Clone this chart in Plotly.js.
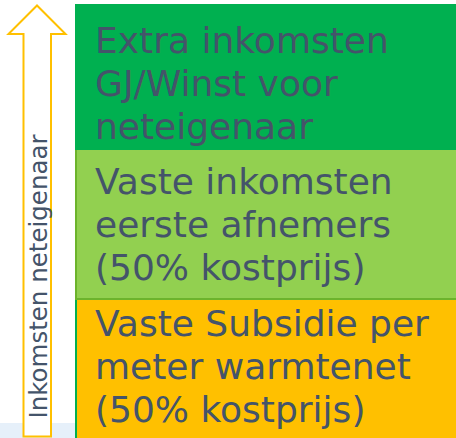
<!DOCTYPE html>
<html>
<head>
<meta charset="utf-8">
<script src="https://cdn.plot.ly/plotly-3.0.1.min.js"></script>
<style>html,body{margin:0;padding:0;background:#fff;}#chart{width:456px;height:438px;}</style>
</head>
<body>
<div id="chart"></div>
<script>
// ---- data ----
const categories = [0];
const axisLabel = 'Inkomsten neteigenaar';
const seriesNames = [
  'Vaste Subsidie per meter warmtenet (50% kostprijs)',
  'Vaste inkomsten eerste afnemers (50% kostprijs)',
  'Extra inkomsten GJ/Winst voor neteigenaar'
];
const seriesValues = [142.5, 150, 143.5];
const seriesLines = [
  ['Vaste Subsidie per', 'meter warmtenet', '(50% kostprijs)'],
  ['Vaste inkomsten', 'eerste afnemers', '(50% kostprijs)'],
  ['Extra inkomsten', 'GJ/Winst voor', 'neteigenaar']
];
const seriesColors = ['#FFC000', '#92D050', '#00B050'];
const seriesLineColors = ['#00B050', '#6CB32C', '#00B050'];

// ---- layout helpers ----
const W = 456, H = 438;
const px = x => x / W;
const py = y => 1 - y / H;
const textColor = '#44546A';
const barWidth = 1;
const firstBaseline = [36.5, 44.5, 47];
const lineGap = 43;
const ascent = 34.4;

const traces = seriesNames.map((name, i) => ({
  type: 'bar',
  name: name,
  x: categories,
  y: [seriesValues[i]],
  width: barWidth,
  marker: {color: seriesColors[i], line: {color: seriesLineColors[i], width: 2}},
  hoverinfo: 'skip'
}));

const annotations = [];
let cum = 0;
seriesValues.forEach((v, i) => {
  cum += v;
  seriesLines[i].forEach((line, k) => {
    annotations.push({
      xref: 'x', yref: 'y',
      x: categories[0] - barWidth / 2, y: cum,
      xanchor: 'left', yanchor: 'top',
      xshift: 17,
      yshift: -(firstBaseline[i] + k * lineGap - ascent),
      text: line, showarrow: false,
      font: {family: 'DejaVu Sans', size: 36, color: textColor}
    });
  });
});
annotations.push({
  xref: 'paper', yref: 'paper',
  x: px(37.5), y: py(276),
  xanchor: 'center', yanchor: 'middle',
  text: axisLabel, textangle: -90, showarrow: false,
  font: {family: 'DejaVu Sans', size: 24.5, color: textColor}
});

const arrowPath = 'M ' + px(23.5) + ' ' + py(436.5) +
  ' L ' + px(23.5) + ' ' + py(34) +
  ' L ' + px(8.5) + ' ' + py(34) +
  ' L ' + px(37) + ' ' + py(5.5) +
  ' L ' + px(65.5) + ' ' + py(34) +
  ' L ' + px(51) + ' ' + py(34) +
  ' L ' + px(51) + ' ' + py(436.5) + ' Z';

// bar left edge at pixel 76, right edge at pixel ~464 (off-canvas)
const leftPx = 76, rightPx = 464;
const unitPx = (rightPx - leftPx) / barWidth;
const xr0 = categories[0] - barWidth / 2 - leftPx / unitPx;
const xr1 = xr0 + W / unitPx;
const layout = {
  width: W, height: H,
  margin: {l: 0, r: 0, t: 0, b: 0, pad: 0},
  paper_bgcolor: '#ffffff', plot_bgcolor: 'rgba(0,0,0,0)',
  barmode: 'stack',
  showlegend: false,
  xaxis: {range: [xr0, xr1], visible: false, fixedrange: true},
  yaxis: {range: [3, 441], visible: false, fixedrange: true},
  shapes: [
    {type: 'rect', xref: 'paper', yref: 'paper', x0: 0, x1: px(76), y0: py(438), y1: py(423),
     fillcolor: '#E6F0FA', line: {width: 0}, layer: 'below'},
    {type: 'path', xref: 'paper', yref: 'paper', path: arrowPath,
     fillcolor: '#ffffff', line: {color: '#FFC000', width: 2}, layer: 'above'}
  ],
  annotations: annotations
};

Plotly.newPlot('chart', traces, layout, {displayModeBar: false, staticPlot: true});
</script>
</body>
</html>
